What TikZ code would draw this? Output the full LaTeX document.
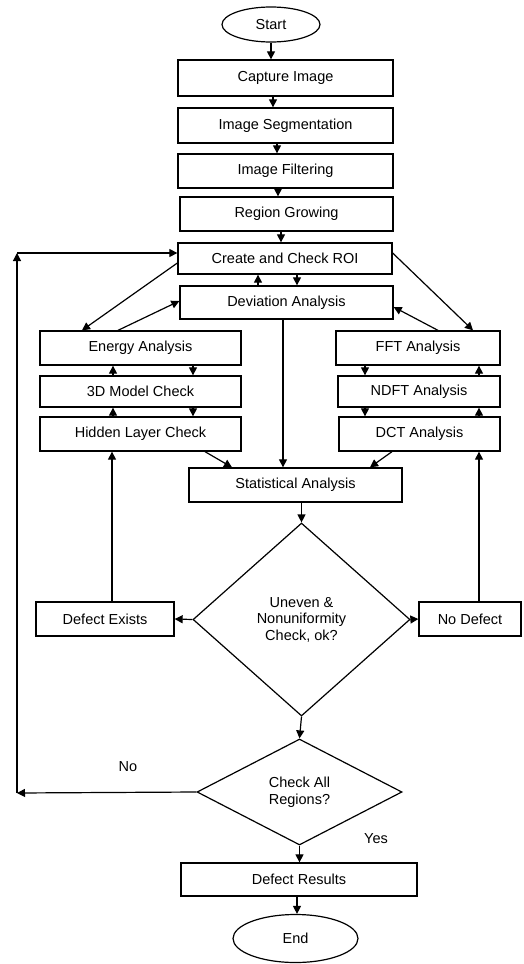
\documentclass[tikz,border=0pt]{standalone}
\usepackage{fontspec}
\setmainfont{Liberation Sans}
\usetikzlibrary{shapes.geometric,arrows.meta}
\begin{document}
\begin{tikzpicture}[x=1pt,y=-1pt,
  every node/.style={font=\fontsize{14.5}{16.5}\selectfont},
  box/.style={draw,line width=1.3pt,rectangle,inner sep=0pt},
  oval/.style={draw,line width=1.2pt,ellipse,inner sep=0pt},
  dia/.style={draw,line width=1.2pt,diamond,inner sep=0pt,align=center},
  arr/.style={line width=1.2pt,-{Triangle[length=8pt,width=8pt]}},
  lbl/.style={inner sep=0pt}]
\useasboundingbox (0,0) rectangle (523,964);
% nodes
\node[oval,minimum width=98pt,minimum height=35pt] (start) at (271,24.5) {Start};
\node[box,minimum width=215pt,minimum height=36pt] (cap) at (285.5,78) {Capture Image};
\node[box,minimum width=215pt,minimum height=35pt] (seg) at (285.5,125.5) {Image Segmentation};
\node[box,minimum width=215pt,minimum height=34pt] (filt) at (285.5,171) {Image Filtering};
\node[box,minimum width=213pt,minimum height=34pt] (grow) at (286.5,214) {Region Growing};
\node[box,minimum width=214pt,minimum height=31pt] (roi) at (285,258.5) {Create and Check ROI};
\node[box,minimum width=213pt,minimum height=33pt] (dev) at (286.5,302.5) {Deviation Analysis};
\node[box,minimum width=201pt,minimum height=34pt] (energy) at (140.5,348) {Energy Analysis};
\node[box,minimum width=201pt,minimum height=31pt] (model) at (140.5,391.5) {3D Model Check};
\node[box,minimum width=201pt,minimum height=34pt] (hidden) at (140.5,434) {Hidden Layer Check};
\node[box,minimum width=164pt,minimum height=34pt] (fft) at (418,348) {FFT Analysis};
\node[box,minimum width=162pt,minimum height=31pt] (ndft) at (419,391.5) {NDFT Analysis};
\node[box,minimum width=161pt,minimum height=34pt] (dct) at (419.5,434) {DCT Analysis};
\node[box,minimum width=213pt,minimum height=34pt] (stat) at (295.5,485) {Statistical Analysis};
\node[dia,minimum width=217pt,minimum height=193pt] (d1) at (301.5,619.5) {Uneven \&\\Nonuniformity\\Check, ok?};
\node[box,minimum width=138pt,minimum height=34pt] (defex) at (105,619) {Defect Exists};
\node[box,minimum width=102pt,minimum height=34pt] (nodef) at (470,619) {No Defect};
\node[dia,minimum width=205pt,minimum height=106pt] (d2) at (299.5,792) {Check All\\Regions?};
\node[box,minimum width=236pt,minimum height=33pt] (res) at (299,879.5) {Defect Results};
\node[oval,minimum width=125pt,minimum height=48pt] (end) at (295.5,938.5) {End};
\node[lbl] (no) at (128,767) {No};
\node[lbl] (yes) at (376,839) {Yes};
\coordinate (lb) at (17,793);
\coordinate (lt) at (17,253);
% main chain
\draw[arr] (start.south) -- (start.south |- cap.north);
\draw[arr] ([xshift=-12.5pt]cap.south) -- ([xshift=-12.5pt]cap.south |- seg.north);
\draw[arr] ([xshift=-8.5pt]seg.south) -- ([xshift=-8.5pt]seg.south |- filt.north);
\draw[arr] ([xshift=-7.5pt]filt.south) -- ([xshift=-7.5pt]filt.south |- grow.north);
\draw[arr] ([xshift=-5.5pt]grow.south) -- ([xshift=-5.5pt]grow.south |- roi.north);
% roi <-> dev
\draw[arr] ([xshift=-28.5pt]dev.north) -- ([xshift=-28.5pt]dev.north |- roi.south);
\draw[arr] ([xshift=12pt]roi.south) -- ([xshift=12pt]roi.south |- dev.north);
% diagonals
\draw[arr] ([yshift=-4.5pt]roi.west) -- ([xshift=-58.5pt]energy.north);
\draw[arr] ([xshift=-22.5pt]energy.north) -- ([yshift=1.5pt]dev.west);
\draw[arr] ([yshift=5.5pt]roi.east) -- ([xshift=55pt]fft.north);
\draw[arr] ([xshift=20pt]fft.north) -- ([yshift=-4.5pt]dev.east);
\draw[arr] ([xshift=-3.5pt]dev.south) -- ([xshift=-3.5pt]dev.south |- stat.north);
% left column
\draw[arr] ([xshift=-27.5pt]model.north) -- ([xshift=-27.5pt]model.north |- energy.south);
\draw[arr] ([xshift=52.5pt]energy.south) -- ([xshift=52.5pt]energy.south |- model.north);
\draw[arr] ([xshift=-27.5pt]hidden.north) -- ([xshift=-27.5pt]hidden.north |- model.south);
\draw[arr] ([xshift=52.5pt]model.south) -- ([xshift=52.5pt]model.south |- hidden.north);
% right column
\draw[arr] ([xshift=-53pt]fft.south) -- ([xshift=-53pt]fft.south |- ndft.north);
\draw[arr] ([xshift=60pt]ndft.north) -- ([xshift=60pt]ndft.north |- fft.south);
\draw[arr] ([xshift=-54pt]ndft.south) -- ([xshift=-54pt]ndft.south |- dct.north);
\draw[arr] ([xshift=59.5pt]dct.north) -- ([xshift=59.5pt]dct.north |- ndft.south);
% into statistical
\draw[arr] ([xshift=64.5pt]hidden.south) -- ([xshift=-63.5pt]stat.north);
\draw[arr] ([xshift=-27.5pt]dct.south) -- ([xshift=74.5pt]stat.north);
\draw[arr] (d1.north |- stat.south) -- (d1.north);
% decision 1
\draw[arr] (d1.west) -- (defex.east);
\draw[arr] (d1.east) -- (nodef.west);
\draw[arr] ([xshift=7pt]defex.north) -- ([xshift=7pt]defex.north |- hidden.south);
\draw[arr] ([xshift=9pt]nodef.north) -- ([xshift=9pt]nodef.north |- dct.south);
\draw[arr] (d1.south) -- (d2.north);
% decision 2
\draw[arr] (d2.south) -- (d2.south |- res.north);
\draw[arr] ([xshift=-2pt]res.south) -- ([xshift=-2pt]res.south |- end.north);
\draw[arr] (d2.west) -- (lb);
\draw[arr] (lb) -- (lt);
\draw[arr] (lt) -- ([yshift=5.5pt]roi.west);
\end{tikzpicture}
\end{document}
